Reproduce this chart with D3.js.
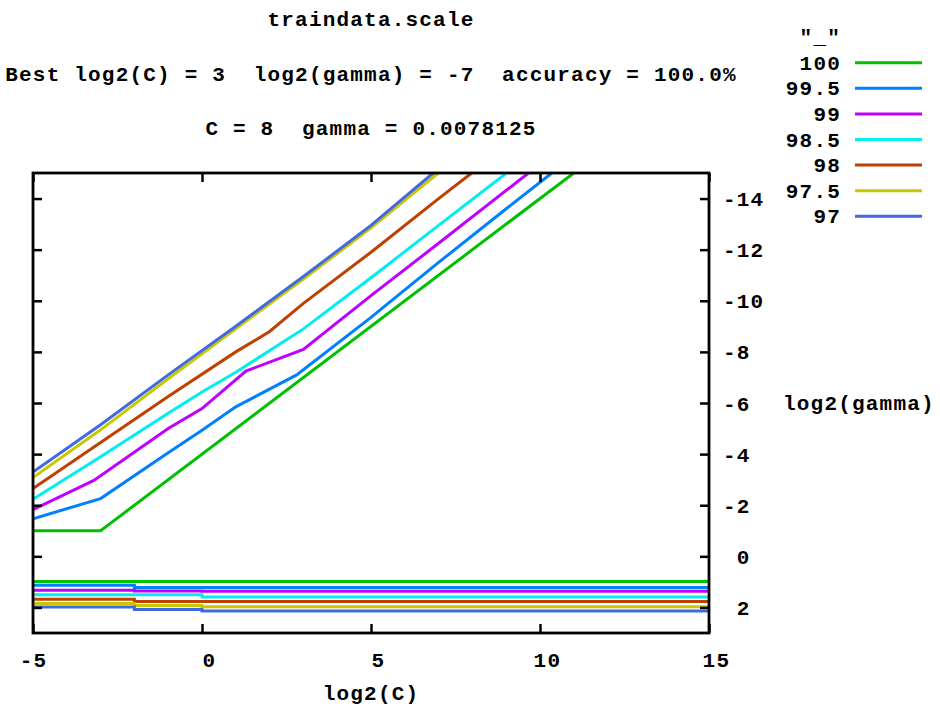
<!DOCTYPE html>
<html lang="en">
<head>
<meta charset="UTF-8">
<title>traindata.scale</title>
<style>
  body { margin: 0; background: #fff; }
  svg text {
    font-family: "Liberation Mono", "DejaVu Sans Mono", monospace;
    font-weight: bold;
    font-size: 21px;
    letter-spacing: 1.2px;
    white-space: pre;
    fill: #000;
  }
  .tick line { stroke: #000; stroke-width: 2.5; }
</style>
</head>
<body>
<div id="chart"></div>
<script src="https://cdn.jsdelivr.net/npm/d3@7"></script>
<script>
// contour levels (accuracy %) in key order, with gnuplot's default line colours
var levels = ["100", "99.5", "99", "98.5", "98", "97.5", "97"];
var colors = ["#00c000", "#0080ff", "#c000ff", "#00eeee", "#c04000", "#c8c800", "#4169e1"];

// upper (diagonal) branch of each contour: [log2(C), log2(gamma)]
var up100  = [[-5,-1.0],[-3,-1.0],[11,-15]];
var up995  = [[-5,-1.47],[-3,-2.26],[-1,-4.05],[0,-4.93],[1,-5.85],[2.8,-7.1],[5,-9.35],[7,-11.5],[9,-13.6],[10.35,-15]];
var up99   = [[-5,-1.83],[-3.2,-2.97],[-1,-5.0],[0,-5.78],[1.3,-7.25],[3,-8.1],[5,-10.2],[7,-12.25],[9.66,-15]];
var up985  = [[-5,-2.23],[-3,-3.9],[-1,-5.6],[0,-6.43],[1,-7.2],[3,-8.9],[5,-10.9],[7,-12.95],[9.01,-15]];
var up98   = [[-5,-2.65],[-3,-4.45],[-1,-6.25],[1,-8.0],[2,-8.8],[3,-9.9],[5,-11.9],[7,-14.0],[7.98,-15]];
var up975  = [[-5,-3.08],[-3,-4.95],[-1,-6.95],[1,-8.9],[3,-10.85],[5,-12.85],[6.99,-15]];
var up97   = [[-5,-3.3],[-3,-5.15],[-1,-7.1],[1,-9.0],[3,-10.95],[5,-12.95],[6.84,-15]];

// lower (flat) branch: log2(gamma) for C < -2, -2 < C < 0, C > 0
var stepsC = [-5, -2, 0, 15];
var low100 = [0.98, 0.98, 0.98];
var low995 = [1.13, 1.22, 1.22];
var low99  = [1.33, 1.36, 1.37];
var low985 = [1.50, 1.50, 1.59];
var low98  = [1.68, 1.77, 1.77];
var low975 = [1.85, 1.92, 1.97];
var low97  = [1.98, 2.08, 2.14];

var upper = [up100, up995, up99, up985, up98, up975, up97];
var lower = [low100, low995, low99, low985, low98, low975, low97];

var xTicks = [-5, 0, 5, 10, 15];
var yTicks = [-14, -12, -10, -8, -6, -4, -2, 0, 2];

var titleText = "traindata.scale";
var bestText = "Best log2(C) = 3  log2(gamma) = -7  accuracy = 100.0%";
var cgText = "C = 8  gamma = 0.0078125";

var width = 940, height = 713;
var pL = 33, pR = 709, pT = 173, pB = 633;

var svg = d3.select("#chart").append("svg")
  .attr("width", width)
  .attr("height", height);

var x = d3.scaleLinear().domain([-5, 15]).range([pL, pR]);
var y = d3.scaleLinear().domain([-15, 3]).range([pT, pB]);

// gnuplot "% h" format: a space where the minus sign would go
function fmt(d) { return d < 0 ? String(d) : " " + d; }

svg.append("clipPath").attr("id", "plot")
  .append("rect")
  .attr("x", pL).attr("y", pT)
  .attr("width", pR - pL).attr("height", pB - pT);

var line = d3.line().x(d => x(d[0])).y(d => y(d[1]));

var plot = svg.append("g").attr("clip-path", "url(#plot)");

upper.forEach(function(pts, i) {
  plot.append("path")
    .attr("d", line(pts))
    .attr("fill", "none")
    .attr("stroke", colors[i])
    .attr("stroke-width", 3);
});

lower.forEach(function(g, i) {
  var pts = [];
  g.forEach(function(v, j) {
    pts.push([stepsC[j], v]);
    pts.push([stepsC[j + 1], v]);
  });
  plot.append("path")
    .attr("d", line(pts))
    .attr("fill", "none")
    .attr("stroke", colors[i])
    .attr("stroke-width", 3);
});

// axes, ticks pointing inward on all four sides
var xb = svg.append("g").attr("transform", "translate(0," + pB + ")")
  .call(d3.axisBottom(x).tickValues(xTicks).tickSize(-9).tickSizeOuter(0).tickFormat(fmt));
xb.select(".domain").remove();
xb.selectAll("text").attr("y", 34).attr("dy", null);

var xt = svg.append("g").attr("transform", "translate(0," + pT + ")")
  .call(d3.axisTop(x).tickValues(xTicks).tickSize(-9).tickSizeOuter(0).tickFormat(""));
xt.select(".domain").remove();

var yl = svg.append("g").attr("transform", "translate(" + pL + ",0)")
  .call(d3.axisLeft(y).tickValues(yTicks).tickSize(-9).tickSizeOuter(0).tickFormat(""));
yl.select(".domain").remove();

var yr = svg.append("g").attr("transform", "translate(" + pR + ",0)")
  .call(d3.axisRight(y).tickValues(yTicks).tickSize(-9).tickSizeOuter(0).tickFormat(fmt));
yr.select(".domain").remove();
yr.selectAll("text").attr("x", 14).attr("dy", null).attr("y", 7);

svg.append("rect")
  .attr("x", pL).attr("y", pT)
  .attr("width", pR - pL).attr("height", pB - pT)
  .attr("fill", "none")
  .attr("stroke", "#000")
  .attr("stroke-width", 2.8);

// titles
var cx = (pL + pR) / 2;
svg.append("text").attr("x", cx).attr("y", 26).attr("text-anchor", "middle").text(titleText);
svg.append("text").attr("x", cx).attr("y", 81).attr("text-anchor", "middle").text(bestText);
svg.append("text").attr("x", cx).attr("y", 135).attr("text-anchor", "middle").text(cgText);

svg.append("text").attr("x", cx).attr("y", 700).attr("text-anchor", "middle").text("log2(C)");
svg.append("text").attr("x", 783).attr("y", (pT + pB) / 2 + 7).text("log2(gamma)");

// key
var keyX = 841, keyY0 = 62.7, keyStep = 25.6;
svg.append("text").attr("x", keyX).attr("y", keyY0 - keyStep + 7)
  .attr("text-anchor", "end").text('"_"');

var key = svg.selectAll(".key").data(levels).enter().append("g")
  .attr("class", "key")
  .attr("transform", (d, i) => "translate(0," + (keyY0 + i * keyStep) + ")");

key.append("text").attr("x", keyX).attr("y", 7).attr("text-anchor", "end").text(d => d);
key.append("line")
  .attr("x1", 855).attr("x2", 922)
  .attr("stroke", (d, i) => colors[i])
  .attr("stroke-width", 3);
</script>
</body>
</html>
